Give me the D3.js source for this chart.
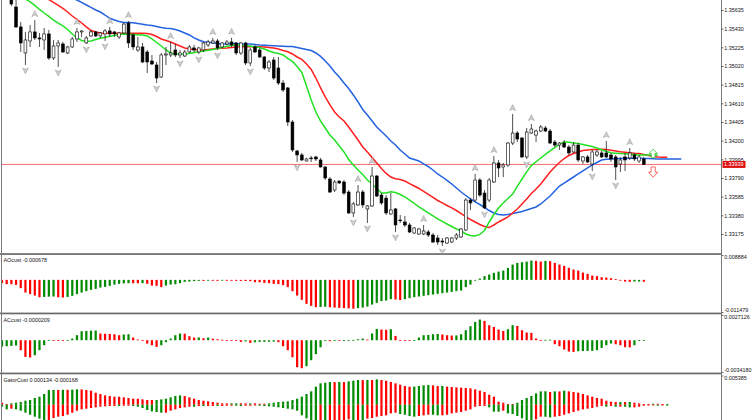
<!DOCTYPE html>
<html>
<head>
<meta charset="utf-8">
<script src="https://cdn.jsdelivr.net/npm/d3@7"></script>
<style>
  body { margin: 0; background: #fff; }
  svg { display: block; }
  text { font-family: "Liberation Sans", Arial, sans-serif; }
</style>
</head>
<body>
<div id="chart"></div>
<script>
// ---- price bars (index 0 = oldest) ----
const opens = [1.35900,1.35850,1.35855,1.35668,1.35449,1.35163,1.35295,1.35394,1.35328,1.35306,
  1.35372,1.35108,1.35240,1.35262,1.35163,1.35229,1.35317,1.35394,1.35273,1.35350,
  1.35394,1.35350,1.35372,1.35405,1.35394,1.35339,1.35383,1.35492,1.35361,1.35196,
  1.35229,1.35174,1.35075,1.35031,1.34899,1.35141,1.35141,1.35196,1.35141,1.35130,
  1.35174,1.35218,1.35174,1.35196,1.35251,1.35273,1.35295,1.35229,1.35262,1.35284,
  1.35273,1.35163,1.35273,1.35053,1.35229,1.35196,1.35119,1.34998,1.35086,1.34998,
  1.34833,1.34779,1.34405,1.34087,1.34043,1.33977,1.34010,1.34021,1.33988,1.33911,
  1.33779,1.33658,1.33757,1.33746,1.33636,1.33406,1.33494,1.33636,1.33450,1.33483,
  1.33812,1.33603,1.33570,1.33395,1.33450,1.33329,1.33307,1.33274,1.33186,1.33175,
  1.33175,1.33197,1.33164,1.33131,1.33098,1.33076,1.33087,1.33131,1.33142,1.33219,
  1.33548,1.33548,1.33768,1.33625,1.33548,1.33746,1.33955,1.33911,1.33933,1.34174,
  1.34284,1.34229,1.34021,1.34284,1.34262,1.34306,1.34339,1.34306,1.34185,1.34152,
  1.34174,1.34130,1.34076,1.34152,1.33977,1.34021,1.33944,1.34043,1.34065,1.34065,
  1.34043,1.34021,1.33944,1.34021,1.34010,1.34043,1.33977,1.33999];
const highs = [1.35950,1.35920,1.35910,1.35767,1.35503,1.35394,1.35470,1.35525,1.35383,1.35438,
  1.35416,1.35306,1.35306,1.35284,1.35240,1.35339,1.35438,1.35410,1.35350,1.35416,
  1.35405,1.35394,1.35427,1.35449,1.35405,1.35394,1.35492,1.35514,1.35383,1.35339,
  1.35273,1.35196,1.35141,1.35064,1.35163,1.35229,1.35284,1.35262,1.35196,1.35196,
  1.35251,1.35251,1.35229,1.35284,1.35306,1.35328,1.35317,1.35284,1.35306,1.35330,
  1.35284,1.35284,1.35284,1.35218,1.35251,1.35218,1.35130,1.35086,1.35119,1.35119,
  1.34866,1.34790,1.34427,1.34098,1.34065,1.34010,1.34032,1.34032,1.34010,1.33922,
  1.33801,1.33768,1.33762,1.33768,1.33658,1.33527,1.33713,1.33658,1.33494,1.33911,
  1.33823,1.33625,1.33603,1.33625,1.33461,1.33384,1.33373,1.33296,1.33252,1.33241,
  1.33274,1.33219,1.33186,1.33164,1.33131,1.33142,1.33142,1.33186,1.33241,1.33570,
  1.33570,1.33834,1.33790,1.33658,1.33790,1.34032,1.33988,1.33955,1.34185,1.34493,
  1.34306,1.34240,1.34339,1.34383,1.34322,1.34372,1.34361,1.34328,1.34207,1.34185,
  1.34207,1.34152,1.34185,1.34174,1.34032,1.34043,1.34098,1.34098,1.34087,1.34196,
  1.34065,1.34043,1.34021,1.34065,1.34119,1.34065,1.34043,1.34021];
const lows = [1.35800,1.35770,1.35679,1.35438,1.35174,1.35031,1.35229,1.35306,1.35229,1.35196,
  1.35086,1.35086,1.35009,1.35163,1.35152,1.35218,1.35284,1.35339,1.35262,1.35339,
  1.35339,1.35328,1.35295,1.35339,1.35339,1.35317,1.35372,1.35218,1.35196,1.35174,
  1.35053,1.34943,1.35031,1.34833,1.34888,1.35031,1.35119,1.35119,1.35108,1.35119,
  1.35163,1.35174,1.35152,1.35174,1.35229,1.35262,1.35196,1.35218,1.35251,1.35229,
  1.35141,1.35141,1.35031,1.35020,1.35163,1.35108,1.34976,1.34954,1.34866,1.34811,
  1.34735,1.34361,1.34076,1.33966,1.33977,1.33972,1.33966,1.33977,1.33905,1.33768,
  1.33625,1.33636,1.33724,1.33603,1.33395,1.33362,1.33483,1.33461,1.33296,1.33472,
  1.33581,1.33494,1.33384,1.33384,1.33197,1.33296,1.33252,1.33186,1.33175,1.33164,
  1.33164,1.33142,1.33076,1.33054,1.33043,1.33065,1.33076,1.33109,1.33131,1.33208,
  1.33439,1.33526,1.33581,1.33450,1.33526,1.33735,1.33801,1.33801,1.33911,1.34152,
  1.34185,1.34010,1.33999,1.34273,1.34185,1.34295,1.34295,1.34163,1.34130,1.34098,
  1.34119,1.34043,1.34065,1.33966,1.33944,1.33955,1.33867,1.34021,1.34010,1.34010,
  1.33966,1.33768,1.33856,1.33867,1.33988,1.33977,1.33955,1.33933];
const closes = [1.35850,1.35800,1.35701,1.35449,1.35273,1.35306,1.35394,1.35328,1.35317,1.35372,
  1.35108,1.35240,1.35273,1.35174,1.35229,1.35317,1.35394,1.35405,1.35328,1.35394,
  1.35350,1.35383,1.35405,1.35372,1.35372,1.35383,1.35481,1.35273,1.35229,1.35229,
  1.35064,1.35064,1.35042,1.34888,1.35141,1.35152,1.35163,1.35141,1.35163,1.35174,
  1.35229,1.35196,1.35218,1.35273,1.35284,1.35295,1.35218,1.35273,1.35284,1.35251,
  1.35163,1.35273,1.35053,1.35196,1.35174,1.35119,1.34998,1.35064,1.34888,1.34833,
  1.34757,1.34405,1.34098,1.34043,1.33988,1.33999,1.34005,1.33999,1.33911,1.33790,
  1.33636,1.33746,1.33735,1.33625,1.33406,1.33505,1.33636,1.33494,1.33483,1.33812,
  1.33592,1.33516,1.33406,1.33439,1.33274,1.33324,1.33274,1.33197,1.33241,1.33230,
  1.33208,1.33164,1.33087,1.33087,1.33087,1.33131,1.33131,1.33164,1.33230,1.33548,
  1.33516,1.33768,1.33603,1.33461,1.33768,1.33955,1.33900,1.33933,1.34174,1.34284,
  1.34218,1.34021,1.34295,1.34328,1.34306,1.34350,1.34306,1.34174,1.34152,1.34174,
  1.34130,1.34065,1.34152,1.33988,1.34021,1.33966,1.34076,1.34076,1.34021,1.34021,
  1.33999,1.33911,1.33988,1.33988,1.34065,1.33999,1.34021,1.33939];

// ---- alligator lines (already shifted forward, so they run past the last bar) ----
const jaw = [1.36239,1.36206,1.36173,1.36140,1.36107,1.36074,1.36042,1.36009,1.35976,1.35943,
  1.35910,1.35877,1.35844,1.35811,1.35789,1.35767,1.35745,1.35718,1.35690,1.35663,
  1.35635,1.35613,1.35580,1.35544,1.35525,1.35509,1.35498,1.35498,1.35496,1.35487,
  1.35478,1.35470,1.35465,1.35454,1.35443,1.35435,1.35432,1.35421,1.35405,1.35383,
  1.35361,1.35328,1.35306,1.35286,1.35280,1.35275,1.35267,1.35262,1.35262,1.35267,
  1.35267,1.35262,1.35262,1.35262,1.35256,1.35251,1.35248,1.35245,1.35242,1.35240,
  1.35237,1.35233,1.35234,1.35223,1.35212,1.35201,1.35190,1.35163,1.35125,1.35075,
  1.35020,1.34954,1.34899,1.34833,1.34773,1.34702,1.34625,1.34543,1.34482,1.34416,
  1.34350,1.34301,1.34251,1.34196,1.34153,1.34098,1.34054,1.34010,1.33993,1.33977,
  1.33944,1.33914,1.33878,1.33834,1.33801,1.33763,1.33724,1.33680,1.33636,1.33598,
  1.33560,1.33527,1.33499,1.33466,1.33433,1.33406,1.33389,1.33384,1.33389,1.33400,
  1.33411,1.33422,1.33439,1.33455,1.33472,1.33505,1.33548,1.33592,1.33647,1.33702,
  1.33735,1.33768,1.33801,1.33834,1.33867,1.33900,1.33933,1.33960,1.33988,1.33995,
  1.33999,1.34002,1.34005,1.34006,1.34006,1.34006,1.34006,1.34005,1.34003,1.34001,
  1.33999,1.33999,1.33999,1.33999,1.33999,1.33999];
const teeth = [1.36096,1.36063,1.36031,1.35998,1.35965,1.35932,1.35899,1.35866,1.35833,1.35789,
  1.35750,1.35718,1.35685,1.35652,1.35613,1.35569,1.35531,1.35492,1.35449,1.35410,
  1.35394,1.35383,1.35379,1.35379,1.35379,1.35379,1.35379,1.35379,1.35379,1.35379,
  1.35379,1.35377,1.35366,1.35344,1.35317,1.35300,1.35284,1.35262,1.35240,1.35218,
  1.35207,1.35201,1.35196,1.35196,1.35201,1.35207,1.35211,1.35215,1.35218,1.35223,
  1.35229,1.35232,1.35232,1.35232,1.35232,1.35232,1.35229,1.35223,1.35218,1.35207,
  1.35190,1.35177,1.35152,1.35119,1.35092,1.35042,1.34982,1.34888,1.34779,1.34680,
  1.34592,1.34515,1.34460,1.34416,1.34350,1.34279,1.34207,1.34131,1.34076,1.34015,
  1.33955,1.33895,1.33840,1.33801,1.33782,1.33773,1.33757,1.33729,1.33702,1.33675,
  1.33642,1.33609,1.33576,1.33543,1.33516,1.33488,1.33461,1.33433,1.33400,1.33367,
  1.33334,1.33307,1.33279,1.33257,1.33246,1.33274,1.33307,1.33334,1.33362,1.33406,
  1.33450,1.33505,1.33560,1.33620,1.33669,1.33724,1.33790,1.33856,1.33911,1.33960,
  1.34004,1.34037,1.34059,1.34076,1.34092,1.34098,1.34102,1.34104,1.34105,1.34103,
  1.34095,1.34087,1.34079,1.34073,1.34067,1.34061,1.34058,1.34048,1.34037,1.34026,
  1.34021,1.34018,1.34017];
const lips = [1.35965,1.35921,1.35877,1.35833,1.35789,1.35756,1.35723,1.35685,1.35641,1.35602,
  1.35564,1.35525,1.35492,1.35460,1.35421,1.35372,1.35328,1.35300,1.35289,1.35295,
  1.35311,1.35324,1.35335,1.35346,1.35355,1.35366,1.35372,1.35368,1.35366,1.35363,
  1.35361,1.35350,1.35317,1.35278,1.35240,1.35196,1.35163,1.35152,1.35149,1.35149,
  1.35157,1.35168,1.35177,1.35185,1.35193,1.35201,1.35212,1.35223,1.35237,1.35245,
  1.35251,1.35248,1.35243,1.35240,1.35229,1.35223,1.35207,1.35185,1.35168,1.35157,
  1.35141,1.35103,1.35070,1.35015,1.34949,1.34801,1.34647,1.34515,1.34416,1.34339,
  1.34262,1.34207,1.34142,1.34076,1.33993,1.33933,1.33878,1.33829,1.33768,1.33724,
  1.33675,1.33625,1.33625,1.33640,1.33631,1.33609,1.33582,1.33548,1.33510,1.33472,
  1.33439,1.33406,1.33373,1.33340,1.33313,1.33285,1.33257,1.33230,1.33208,1.33175,
  1.33159,1.33153,1.33170,1.33214,1.33307,1.33389,1.33461,1.33516,1.33565,1.33614,
  1.33697,1.33779,1.33858,1.33926,1.33968,1.34010,1.34050,1.34087,1.34124,1.34159,
  1.34189,1.34182,1.34175,1.34168,1.34159,1.34148,1.34136,1.34120,1.34100,1.34081,
  1.34068,1.34063,1.34058,1.34055,1.34052,1.34047,1.34043,1.34043,1.34043,1.34043,
  1.34043];

// ---- fractals (bar indexes) ----
const fractalUp = [7,16,23,27,36,45,49,76,79,90,101,105,109,113,129,134];
const fractalDown = [5,12,18,22,33,38,42,46,53,63,75,78,84,94,103,112,126,131];

// ---- signal arrows on the right ----
const signalIndex = 139;
const signalUpPrice = 1.34060;
const signalDownPrice = 1.33855;

// ---- oscillators ----
const aoValues = [-0.00118,-0.00154,-0.00156,-0.00179,-0.00296,-0.00453,-0.0051,-0.0056,-0.0062,-0.0061,
  -0.0060,-0.00595,-0.0062,-0.0063,-0.0061,-0.00571,-0.0051,-0.00453,-0.00403,-0.00357,
  -0.00321,-0.00275,-0.0025,-0.00214,-0.00168,-0.00143,-0.00125,-0.00118,-0.0012,-0.00122,
  -0.00118,-0.00143,-0.00204,-0.00214,-0.0026,-0.00204,-0.00168,-0.00154,-0.00118,-0.00071,
  -0.00061,-0.00046,-0.00036,-0.00038,-0.0003,-0.00032,-0.00034,-0.00028,-0.0003,-0.00033,
  -0.00035,-0.00036,-0.0004,-0.00045,-0.00082,-0.00085,-0.00107,-0.00118,-0.00143,-0.00154,
  -0.00189,-0.0026,-0.00403,-0.0056,-0.00714,-0.00857,-0.00928,-0.00975,-0.0097,-0.0096,
  -0.0098,-0.0099,-0.0100,-0.0101,-0.0102,-0.0103,-0.0101,-0.0099,-0.00953,-0.00882,
  -0.00821,-0.0076,-0.00739,-0.00689,-0.0070,-0.0072,-0.0069,-0.00653,-0.00618,-0.00596,
  -0.00571,-0.00546,-0.00525,-0.005,-0.00475,-0.00453,-0.00428,-0.00403,-0.00382,-0.0026,
  -0.00168,-0.0001,0.00046,0.00132,0.00189,0.0025,0.00296,0.00332,0.00428,0.00546,
  0.00607,0.00632,0.00653,0.00689,0.00678,0.00653,0.00678,0.00668,0.00607,0.00546,
  0.005,0.00428,0.00368,0.00332,0.0026,0.00214,0.00154,0.00132,0.00096,0.00082,
  0.00061,0.00025,-0.00005,-0.00061,-0.00071,-0.00061,-0.00058,-0.000678];
const acValues = [-0.000677,-0.000645,-0.000613,-0.00057,-0.001075,-0.001795,-0.00186,-0.001613,-0.001075,-0.000538,
  0.0000323,0.0000108,-0.0000215,-0.000043,0.0000323,0.000183,0.000538,0.000968,0.001,0.00102,
  0.00104,0.00072,0.000699,0.000677,0.000645,0.000538,0.000613,0.000645,0.00029,0.0000753,
  0.0,-0.000355,-0.000538,-0.00072,-0.000538,-0.000215,0.000183,0.000538,0.00072,0.000699,
  0.00043,0.00029,0.000301,0.000215,0.00029,0.000161,0.0001075,0.0000538,0.0000215,-0.0000323,
  -0.000086,-0.000183,-0.000129,-0.00029,-0.000215,-0.000183,-0.000172,-0.000161,-0.00015,-0.000215,
  -0.000645,-0.001075,-0.001828,-0.002903,-0.00301,-0.002795,-0.00215,-0.001505,-0.000753,-0.0000753,
  -0.0001075,-0.0000538,-0.000086,-0.000043,-0.0000215,0.0000323,0.0001075,0.000183,0.0000753,0.00072,
  0.001215,0.00115,0.001129,0.001183,0.000462,0.0000323,0.0000108,-0.0000108,0.0000215,0.00029,
  0.000538,0.00057,0.000645,0.000677,0.000613,0.000538,0.000505,0.000516,0.000645,0.001075,
  0.001505,0.001967,0.002225,0.002075,0.001613,0.00143,0.00115,0.001,0.001183,0.001613,
  0.001537,0.001075,0.000828,0.000785,0.000183,0.0000323,0.000043,0.0000538,-0.00043,-0.000645,
  -0.001,-0.001215,-0.001258,-0.001183,-0.001161,-0.00115,-0.00114,-0.001075,-0.000828,-0.000538,
  -0.000355,-0.00043,-0.000538,-0.000753,-0.000774,-0.000538,-0.0000323,-0.0000209];
const gatorUp = [0.000369,0.000123,0.000246,0.000369,0.000492,0.000738,0.000861,0.00123,0.001476,0.001968,
  0.002706,0.00274,0.00272,0.00276,0.00275,0.00278,0.002829,0.00282,0.002706,0.002583,
  0.002214,0.001968,0.001722,0.001599,0.001476,0.00147,0.001353,0.00123,0.001107,0.0011,
  0.000984,0.000861,0.00086,0.000865,0.000984,0.001107,0.001353,0.001599,0.001722,0.001599,
  0.001353,0.001107,0.000861,0.000738,0.000615,0.000492,0.000369,0.000246,0.00024,0.000246,
  0.00025,0.000246,0.00024,0.000246,0.000246,0.000185,0.000185,0.000246,0.000369,0.000492,
  0.000554,0.000615,0.000861,0.001107,0.001476,0.001968,0.00246,0.003321,0.003936,0.004059,
  0.004182,0.00416,0.00419,0.00417,0.004305,0.004428,0.004551,0.00453,0.00456,0.00454,
  0.004674,0.004551,0.004428,0.004182,0.003936,0.00369,0.003444,0.003321,0.00334,0.003444,
  0.003567,0.003629,0.003567,0.003444,0.00346,0.003321,0.00326,0.003198,0.003137,0.003075,
  0.003014,0.002829,0.002583,0.002337,0.001845,0.001476,0.000554,0.000369,0.000123,0.00012,
  0.000369,0.000861,0.00123,0.001599,0.002091,0.00246,0.00248,0.002337,0.00246,0.00245,
  0.002583,0.00246,0.002337,0.002214,0.001968,0.001722,0.001476,0.00123,0.001107,0.000738,
  0.000554,0.000492,0.0005,0.00049,0.000495,0.000369,0.000246,0.000123,0.00012,0.000185,
  0.00018,0.000123,0.000134];
const gatorDown = [-0.000369,-0.000861,-0.000738,-0.000861,-0.001107,-0.001476,-0.001845,-0.002214,-0.002583,-0.003198,
  -0.002829,-0.00246,-0.002214,-0.002091,-0.001845,-0.001476,-0.001107,-0.000861,-0.000738,-0.000615,
  -0.000492,-0.000369,-0.000308,-0.000246,-0.00024,-0.000246,-0.000185,-0.00018,-0.000246,-0.000369,
  -0.000615,-0.000984,-0.00123,-0.001353,-0.001476,-0.00147,-0.001107,-0.000861,-0.000615,-0.000492,
  -0.000369,-0.00037,-0.000246,-0.00025,-0.000246,-0.00024,-0.000246,-0.000246,-0.000185,-0.00018,
  -0.000185,-0.000246,-0.000185,-0.000185,-0.000123,-0.000185,-0.000246,-0.000308,-0.000369,-0.000492,
  -0.000615,-0.000738,-0.000861,-0.001107,-0.001968,-0.002522,-0.003075,-0.003444,-0.00343,-0.00345,
  -0.003321,-0.003198,-0.003075,-0.002829,-0.002706,-0.002829,-0.00282,-0.00284,-0.002583,-0.00246,
  -0.002214,-0.002091,-0.001968,-0.001599,-0.001476,-0.001722,-0.001845,-0.002091,-0.002214,-0.002091,
  -0.001968,-0.001845,-0.00185,-0.001968,-0.00196,-0.001845,-0.001599,-0.001476,-0.001353,-0.001107,
  -0.000861,-0.000369,-0.000246,-0.00024,-0.000492,-0.001292,-0.0013,-0.001107,-0.001599,-0.001722,
  -0.002091,-0.002522,-0.002952,-0.003075,-0.002706,-0.002214,-0.00222,-0.002337,-0.002214,-0.002091,
  -0.001845,-0.001599,-0.001353,-0.001107,-0.000861,-0.000738,-0.000615,-0.000369,-0.000246,-0.000369,
  -0.000246,-0.000369,-0.00036,-0.00037,-0.000492,-0.00049,-0.000369,-0.000185,-0.000123,-0.00012,
  -0.000185,-0.000123,-0.000168];

// ---- axis tick labels ----
const priceTicks = [1.35635,1.35430,1.35225,1.35020,1.34815,1.34610,1.34405,1.34200,1.33995,1.33790,1.33585,1.33380,1.33175];
const aoRange = [-0.011479, 0.008884];
const acRange = [-0.0034180, 0.0027126];
const gatorRange = [-0.00513, 0.005385];

// ---------------------------------------------------------------
const width = 752, height = 420;
const plotRight = 721;
const fontSize = 5.4;

const svg = d3.select('#chart')
    .append('svg')
    .attr('width', width)
    .attr('height', height);

const x = d3.scaleLinear()
    .domain([0, closes.length - 1])
    .range([2, 643.8]);

const yPrice = d3.scaleLinear()
    .domain([priceTicks[priceTicks.length - 1], priceTicks[0]])
    .range([234, 10]);

const defs = svg.append('defs');
function clip(id, y0, y1) {
    defs.append('clipPath').attr('id', id)
        .append('rect').attr('x', 2).attr('y', y0).attr('width', plotRight - 2).attr('height', y1 - y0);
    return `url(#${id})`;
}

// ---- main price window ----
const main = svg.append('g').attr('clip-path', clip('clipMain', 0, 252.5));

// current price line
const lastPrice = closes[closes.length - 1];
main.append('line')
    .attr('x1', 0).attr('x2', plotRight)
    .attr('y1', yPrice(lastPrice)).attr('y2', yPrice(lastPrice))
    .attr('stroke', '#f26b6b').attr('stroke-width', 1);

// alligator
const alligator = [
    { values: jaw, color: '#2362e0' },
    { values: teeth, color: '#ff1f1f' },
    { values: lips, color: '#22e022' }
];
const lineGen = d3.line().x((d, i) => x(i)).y(d => yPrice(d));
main.selectAll('path.alligator')
    .data(alligator)
    .enter()
    .append('path')
    .attr('class', 'alligator')
    .attr('d', d => lineGen(d.values))
    .attr('fill', 'none')
    .attr('stroke', d => d.color)
    .attr('stroke-width', 1.5);

// candles
const bars = d3.range(closes.length);
const candles = main.selectAll('g.candle')
    .data(bars)
    .enter()
    .append('g')
    .attr('class', 'candle');

candles.append('line')
    .attr('x1', i => x(i)).attr('x2', i => x(i))
    .attr('y1', i => yPrice(highs[i]))
    .attr('y2', i => yPrice(lows[i]))
    .attr('stroke', '#222')
    .attr('stroke-width', 0.8);

candles.append('rect')
    .attr('x', i => x(i) - 1.4)
    .attr('width', 2.8)
    .attr('y', i => yPrice(Math.max(opens[i], closes[i])))
    .attr('height', i => Math.max(0.8, Math.abs(yPrice(opens[i]) - yPrice(closes[i]))))
    .attr('fill', i => closes[i] >= opens[i] ? '#fff' : '#000')
    .attr('stroke', '#000')
    .attr('stroke-width', 0.6);

// fractal markers
const upArrow = 'M0,-3.4 L3,2.6 L0,1.2 L-3,2.6 Z';
const downArrow = 'M0,3.4 L3,-2.6 L0,-1.2 L-3,-2.6 Z';
main.selectAll('path.fup')
    .data(fractalUp)
    .enter()
    .append('path')
    .attr('class', 'fup')
    .attr('d', upArrow)
    .attr('transform', i => `translate(${x(i)},${yPrice(highs[i]) - 6})`)
    .attr('fill', '#cfcfcf')
    .attr('stroke', '#999')
    .attr('stroke-width', 0.5);
main.selectAll('path.fdown')
    .data(fractalDown)
    .enter()
    .append('path')
    .attr('class', 'fdown')
    .attr('d', downArrow)
    .attr('transform', i => `translate(${x(i)},${yPrice(lows[i]) + 5.5})`)
    .attr('fill', '#cfcfcf')
    .attr('stroke', '#999')
    .attr('stroke-width', 0.5);

// signal arrows
const blockUp = 'M0,-4.3 L4,0 L1.8,0 L1.8,4.3 L-1.8,4.3 L-1.8,0 L-4,0 Z';
main.append('path')
    .attr('d', blockUp)
    .attr('transform', `translate(${x(signalIndex)},${yPrice(signalUpPrice)})`)
    .attr('fill', '#fff').attr('stroke', '#4cc84c').attr('stroke-width', 0.9);
main.append('path')
    .attr('d', blockUp)
    .attr('transform', `translate(${x(signalIndex)},${yPrice(signalDownPrice)}) scale(1.15,-1.2)`)
    .attr('fill', '#fff').attr('stroke', '#ff5a5a').attr('stroke-width', 0.8);

// ---- sub windows ----
const panels = [
    { title: 'AOcust', values: [aoValues], range: aoRange, top: 255, bottom: 312, digits: 6, clipTo: 312.5, showMin: true },
    { title: 'ACcust', values: [acValues], range: acRange, top: 315, bottom: 372, digits: 7, clipTo: 372.5, showMin: true },
    { title: 'GatorCust', values: [gatorUp, gatorDown], range: gatorRange, top: 375.5, bottom: 432.5, digits: 6, clipTo: 420, showMin: false }
];

panels.forEach((p, n) => {
    const y = d3.scaleLinear().domain(p.range).range([p.bottom, p.top]);
    const g = svg.append('g').attr('clip-path', clip('clipPanel' + n, p.top - 0.5, p.clipTo));

    p.values.forEach(series => {
        // green when the bar grows against the previous one, red otherwise
        const rising = i => {
            const k = i === 0 ? 1 : i;
            if (p.title === 'GatorCust') return Math.abs(series[k]) > Math.abs(series[k - 1]);
            return series[k] > series[k - 1];
        };
        g.selectAll(null)
            .data(series)
            .enter()
            .append('rect')
            .attr('x', (d, i) => x(i) - 1.1)
            .attr('width', 2.2)
            .attr('y', d => Math.min(y(0), y(d)))
            .attr('height', d => Math.max(0.8, Math.abs(y(d) - y(0))))
            .attr('fill', (d, i) => rising(i) ? '#008a00' : '#ff0000');
    });

    const last = p.values.map(s => s[s.length - 1].toFixed(p.digits)).join(' ');
    svg.append('text')
        .attr('x', 3.5)
        .attr('y', p.top + 6.8)
        .attr('font-size', fontSize)
        .attr('fill', '#111')
        .text(`${p.title} ${last}`);

    const axis = d3.axisRight(y)
        .tickValues(p.showMin ? [p.range[1], p.range[0]] : [p.range[1]])
        .tickSize(2.5)
        .tickPadding(0.8)
        .tickFormat(d => d.toFixed(p.digits));
    const ag = svg.append('g')
        .attr('transform', `translate(${plotRight},0)`)
        .call(axis);
    ag.select('.domain').remove();
    ag.selectAll('text')
        .attr('font-size', fontSize)
        .attr('font-family', '"Liberation Sans", Arial, sans-serif')
        .attr('fill', '#111')
        .attr('y', d => d === p.range[1] ? 2 : -2);
    ag.selectAll('line').attr('stroke', '#666');
});

// window separators
[253.2, 312.6, 372.6].forEach(yy => {
    svg.append('rect')
        .attr('x', 0).attr('y', yy)
        .attr('width', plotRight).attr('height', 1.7)
        .attr('fill', '#6a6a6a');
});

// left border and price axis line
svg.append('line')
    .attr('x1', 1.5).attr('x2', 1.5).attr('y1', 0).attr('y2', height)
    .attr('stroke', '#7a7a7a').attr('stroke-width', 1);
svg.append('line')
    .attr('x1', plotRight + 0.5).attr('x2', plotRight + 0.5).attr('y1', 0).attr('y2', height)
    .attr('stroke', '#7a7a7a').attr('stroke-width', 1);

// price axis
const priceAxis = d3.axisRight(yPrice)
    .tickValues(priceTicks)
    .tickSize(2.5)
    .tickPadding(0.8)
    .tickFormat(d => d.toFixed(5));
const pa = svg.append('g')
    .attr('transform', `translate(${plotRight},0)`)
    .call(priceAxis);
pa.select('.domain').remove();
pa.selectAll('text')
    .attr('font-size', fontSize)
    .attr('font-family', '"Liberation Sans", Arial, sans-serif')
    .attr('fill', '#111');
pa.selectAll('line').attr('stroke', '#666');

// current price label
svg.append('rect')
    .attr('x', plotRight + 1.5)
    .attr('y', yPrice(lastPrice) - 3.5)
    .attr('width', 23)
    .attr('height', 7)
    .attr('fill', '#e01010');
svg.append('text')
    .attr('x', plotRight + 3)
    .attr('y', yPrice(lastPrice))
    .attr('dy', '0.34em')
    .attr('font-size', fontSize)
    .attr('fill', '#fff')
    .text(lastPrice.toFixed(5));
</script>
</body>
</html>
